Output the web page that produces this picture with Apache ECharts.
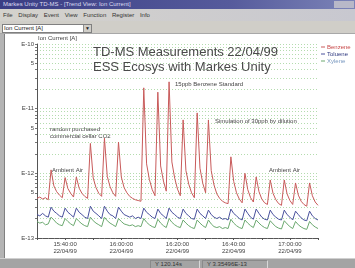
<!DOCTYPE html>
<html>
<head>
<meta charset="utf-8">
<script src="https://cdn.jsdelivr.net/npm/echarts@6/dist/echarts.min.js"></script>
<style>
  html, body { margin: 0; padding: 0; width: 355px; height: 268px; overflow: hidden; background: #fff;
    font-family: "Liberation Sans", Arial, sans-serif; }
  .bar { position: absolute; left: 0; width: 355px; }
  #titlebar { top: 0; height: 9px; background: linear-gradient(to right, #3a3d84, #565b9c 65%, #7c84b8);
    color: #dcdcf0; font-size: 6px; line-height: 9px; text-indent: 3px; white-space: nowrap; }
  #titlebar .btns { position: absolute; right: 1px; top: 1px; height: 7px; width: 20px; background: #b8b8c8; }
  #menubar { top: 9px; height: 12px; background: linear-gradient(to right, #d4d2cc, #c8c8d0); color: #333;
    font-size: 6px; line-height: 12px; white-space: nowrap; word-spacing: 4px; text-indent: 3px; }
  #toolbar { top: 21px; height: 12px; background: #d0cec8; border-bottom: 1px solid #a8a8a8; }
  #combo { position: absolute; left: 2px; top: 3px; width: 88px; height: 7px; background: #fff;
    border: 1px solid #808080; font-size: 6px; line-height: 7px; color: #222; text-indent: 1px; }
  #combo .arr { position: absolute; right: 0; top: 0; width: 7px; height: 7px; background: #d0cec8;
    border-left: 1px solid #909090; font-size: 5px; text-align: center; text-indent: 0; }
  #leftedge { position: absolute; left: 0; top: 34px; width: 4px; height: 224px; background: #b4b4b4;
    border-right: 1px solid #808080; }
  #status { top: 258px; height: 10px; background: #a4a4a4; border-top: 1px solid #d0d0d0; }
  #status .p { position: absolute; top: 1px; height: 7px; border: 1px solid #8a8a8a; border-right-color: #d8d8d8;
    border-bottom-color: #d8d8d8; font-size: 6px; line-height: 7px; color: #333; text-indent: 4px; }
  #main { position: absolute; left: 0; top: 33px; width: 355px; height: 225px; }
</style>
</head>
<body>
<div class="bar" id="titlebar">Markes Unity TD-MS - [Trend View: Ion Current]<div class="btns"></div></div>
<div class="bar" id="menubar">File Display Event View Function Register Info</div>
<div class="bar" id="toolbar"><div id="combo">Ion Current [A]<div class="arr">&#9660;</div></div></div>
<div id="main"></div>
<div id="leftedge"></div>
<div class="bar" id="status">
  <div class="p" style="left:150px;width:48px;">Y 120.14s</div>
  <div class="p" style="left:202px;width:64px;">Y 3.35496E-13</div>
</div>
<script>
// time of first sample in minutes of the day (15:30), one sample per minute
var sampleStart = 930;

var benzene = [
  4.1e-13, 4.3e-13, 4.0e-13, 4.2e-13, 3.9e-13, 1.13e-12, 6.4e-13, 5.2e-13, 4.6e-13, 4.2e-13,
  8.6e-13, 5.8e-13, 4.9e-13, 4.3e-13, 8.8e-13, 5.9e-13, 4.9e-13, 4.4e-13, 4.1e-13, 2.9e-12,
  8.5e-13, 6.0e-13, 4.9e-13, 4.4e-13, 3.5e-12, 9.0e-13, 6.2e-13, 5.0e-13, 4.4e-13, 3.05e-12,
  8.8e-13, 6.0e-13, 5.0e-13, 4.4e-13, 4.1e-13, 3.9e-13, 3.8e-13, 3.7e-13, 2.1e-11, 1.4e-12,
  8.0e-13, 5.6e-13, 4.5e-13, 1.8e-11, 1.3e-12, 7.6e-13, 5.3e-13, 2.6e-11, 1.5e-12, 8.4e-13,
  5.7e-13, 4.5e-13, 6.7e-12, 1.1e-12, 6.8e-13, 5.0e-13, 4.2e-13, 8.6e-12, 1.2e-12, 7.0e-13,
  5.0e-13, 6.7e-12, 1.1e-12, 6.6e-13, 4.8e-13, 4.1e-13, 3.7e-13, 3.5e-13, 3.4e-13, 1.8e-12,
  7.5e-13, 5.0e-13, 4.0e-13, 3.5e-13, 1.0e-12, 5.6e-13, 4.2e-13, 3.6e-13, 8.8e-13, 5.2e-13,
  4.0e-13, 3.5e-13, 3.3e-13, 7.9e-13, 4.9e-13, 3.9e-13, 3.4e-13, 3.2e-13, 7.9e-13, 4.8e-13,
  3.8e-13, 3.3e-13, 7.1e-13, 4.6e-13, 3.7e-13, 3.3e-13, 3.1e-13, 7.1e-13, 4.5e-13, 3.6e-13,
  3.2e-13
];
var toluene = [
  2.3e-13, 2.2e-13, 2.4e-13, 2.2e-13, 2.1e-13, 3.0e-13, 2.6e-13, 2.4e-13, 2.2e-13, 2.1e-13,
  2.9e-13, 2.5e-13, 2.3e-13, 2.1e-13, 2.9e-13, 2.5e-13, 2.3e-13, 2.1e-13, 2.0e-13, 3.1e-13,
  2.6e-13, 2.4e-13, 2.2e-13, 2.0e-13, 3.1e-13, 2.6e-13, 2.3e-13, 2.2e-13, 2.0e-13, 3.0e-13,
  2.6e-13, 2.3e-13, 2.2e-13, 2.1e-13, 2.2e-13, 2.0e-13, 2.1e-13, 2.0e-13, 2.9e-13, 2.5e-13,
  2.3e-13, 2.1e-13, 2.0e-13, 2.8e-13, 2.4e-13, 2.2e-13, 2.0e-13, 2.9e-13, 2.5e-13, 2.3e-13,
  2.1e-13, 2.0e-13, 2.8e-13, 2.4e-13, 2.2e-13, 2.0e-13, 1.95e-13, 2.8e-13, 2.4e-13, 2.2e-13,
  2.0e-13, 2.7e-13, 2.3e-13, 2.1e-13, 2.0e-13, 2.1e-13, 1.95e-13, 2.0e-13, 1.9e-13, 2.8e-13,
  2.4e-13, 2.2e-13, 2.0e-13, 1.9e-13, 2.8e-13, 2.4e-13, 2.1e-13, 1.95e-13, 2.8e-13, 2.4e-13,
  2.1e-13, 1.95e-13, 1.9e-13, 2.7e-13, 2.3e-13, 2.1e-13, 1.95e-13, 1.9e-13, 2.7e-13, 2.3e-13,
  2.1e-13, 1.9e-13, 2.6e-13, 2.3e-13, 2.05e-13, 1.9e-13, 1.85e-13, 2.6e-13, 2.2e-13, 2.0e-13,
  1.9e-13
];
var xylene = [
  1.8e-13, 1.7e-13, 1.75e-13, 1.6e-13, 1.65e-13, 2.1e-13, 1.9e-13, 1.7e-13, 1.6e-13, 1.55e-13,
  2.0e-13, 1.8e-13, 1.65e-13, 1.55e-13, 2.0e-13, 1.8e-13, 1.65e-13, 1.55e-13, 1.5e-13, 2.1e-13,
  1.85e-13, 1.7e-13, 1.6e-13, 1.5e-13, 2.1e-13, 1.85e-13, 1.7e-13, 1.6e-13, 1.5e-13, 2.0e-13,
  1.8e-13, 1.65e-13, 1.6e-13, 1.55e-13, 1.6e-13, 1.5e-13, 1.55e-13, 1.5e-13, 2.0e-13, 1.75e-13,
  1.6e-13, 1.5e-13, 1.45e-13, 1.95e-13, 1.7e-13, 1.55e-13, 1.45e-13, 2.0e-13, 1.75e-13, 1.6e-13,
  1.5e-13, 1.45e-13, 1.9e-13, 1.7e-13, 1.55e-13, 1.45e-13, 1.4e-13, 1.9e-13, 1.7e-13, 1.55e-13,
  1.45e-13, 1.9e-13, 1.65e-13, 1.5e-13, 1.45e-13, 1.5e-13, 1.4e-13, 1.45e-13, 1.4e-13, 1.95e-13,
  1.7e-13, 1.55e-13, 1.45e-13, 1.4e-13, 1.9e-13, 1.7e-13, 1.55e-13, 1.45e-13, 1.9e-13, 1.7e-13,
  1.55e-13, 1.45e-13, 1.4e-13, 1.85e-13, 1.65e-13, 1.5e-13, 1.42e-13, 1.38e-13, 1.85e-13, 1.65e-13,
  1.5e-13, 1.4e-13, 1.8e-13, 1.6e-13, 1.48e-13, 1.4e-13, 1.36e-13, 1.8e-13, 1.6e-13, 1.48e-13,
  1.4e-13
];

var seriesNames = ['Benzene', 'Toluene', 'Xylene'];
var seriesColors = ['#c85a5a', '#48509c', '#6aa86e'];
var legendColors = ['#c84848', '#303a80', '#7898c0'];

var yTickValues = [1e-13, 5e-13, 1e-12, 5e-12, 1e-11, 5e-11, 1e-10];
var yTickLabels = ['E-13', '5', 'E-12', '5', 'E-11', '5', 'E-10'];
var xTickMinutes = [940, 960, 980, 1000, 1020];
var xTickLabels = ['15:40:00', '16:00:00', '16:20:00', '16:40:00', '17:00:00'];
var dateLabel = '22/04/99';

// log axis drawn on exponents so labels can sit at 5E-n as well
var yLabelPos = yTickValues.map(function (v) { return Math.log10(v); });
var yGridPos = [];
for (var d = -13; d < -10; d++) {
  for (var m = 1; m <= 9; m++) yGridPos.push(d + Math.log10(m));
}
yGridPos.push(-10);

function toData(arr) {
  return arr.map(function (v, i) { return [sampleStart + i, Math.log10(v)]; });
}

var myChart = echarts.init(document.getElementById('main'));

var option = {
  animation: false,
  title: {
    text: 'TD-MS Measurements 22/04/99\nESS Ecosys with Markes Unity',
    left: 88, top: 7,
    textStyle: { fontSize: 13, fontWeight: 'normal', color: '#4a4a4a', lineHeight: 15, fontFamily: 'Liberation Sans' }
  },
  legend: {
    orient: 'vertical', left: 321, top: 11, itemWidth: 4, itemHeight: 1, itemGap: 1, icon: 'rect', padding: 0,
    textStyle: { fontSize: 6, lineHeight: 6, padding: [0, 0, 0, -3], fontFamily: 'Liberation Sans' },
    data: seriesNames.map(function (n, i) {
      return { name: n, itemStyle: { color: seriesColors[i] }, textStyle: { color: legendColors[i] } };
    })
  },
  grid: { left: 37, right: 37, top: 11, bottom: 20 },
  xAxis: {
    type: 'value', min: 930, max: 1030, interval: 10,
    axisLine: { lineStyle: { color: '#555', width: 1 } },
    axisTick: { show: true, length: 2, lineStyle: { color: '#555' } },
    minorTick: { show: true, splitNumber: 5, length: 1, lineStyle: { color: '#777' } },
    splitLine: { show: false },
    axisLabel: {
      customValues: xTickMinutes, margin: 3, fontSize: 6, lineHeight: 7, color: '#444', fontFamily: 'Liberation Sans',
      formatter: function (v) {
        var k = xTickMinutes.indexOf(Math.round(v));
        return k < 0 ? '' : xTickLabels[k] + '\n' + dateLabel;
      }
    }
  },
  yAxis: {
    type: 'value', min: -13, max: -10,
    name: 'Ion Current [A]', nameLocation: 'end', nameGap: 2,
    nameTextStyle: { align: 'left', fontSize: 6, color: '#444', fontFamily: 'Liberation Sans', padding: [0, 0, 0, 1] },
    axisLine: { show: true, lineStyle: { color: '#555', width: 1 } },
    axisTick: { show: true, length: 2, customValues: yGridPos, lineStyle: { color: '#777' } },
    splitLine: { show: true, lineStyle: { color: '#b4dcae', width: 1, type: [1, 2] } },
    axisLabel: {
      customValues: yLabelPos, margin: 3, fontSize: 6, color: '#444', fontFamily: 'Liberation Sans',
      formatter: function (v) {
        for (var i = 0; i < yLabelPos.length; i++) {
          if (Math.abs(yLabelPos[i] - v) < 1e-6) return yTickLabels[i];
        }
        return '';
      }
    }
  },
  graphic: [
    { type: 'text', left: 52, top: 134, style: { text: 'Ambient Air', font: '6px Liberation Sans', fill: '#444' } },
    { type: 'text', left: 50, top: 93, style: { text: 'random purchased\ncommercial cellar CO2', font: '6px Liberation Sans', lineHeight: 7, fill: '#444' } },
    { type: 'text', left: 175, top: 48, style: { text: '15ppb Benzene Standard', font: '6px Liberation Sans', fill: '#444' } },
    { type: 'text', left: 215, top: 85, style: { text: 'Simulation of 30ppb by dilution', font: '6px Liberation Sans', fill: '#444' } },
    { type: 'text', left: 269, top: 134, style: { text: 'Ambient Air', font: '6px Liberation Sans', fill: '#444' } }
  ],
  series: [benzene, toluene, xylene].map(function (arr, i) {
    return {
      name: seriesNames[i], type: 'line', data: toData(arr), showSymbol: false, symbol: 'none',
      lineStyle: { color: seriesColors[i], width: 1 }, itemStyle: { color: seriesColors[i] }
    };
  })
};

myChart.setOption(option);
</script>
</body>
</html>
